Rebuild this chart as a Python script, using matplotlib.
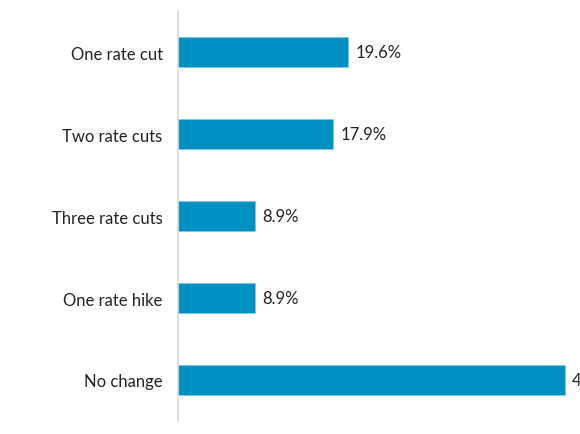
import matplotlib.pyplot as plt

categories = ["One rate cut", "Two rate cuts", "Three rate cuts", "One rate hike", "No change"]
values = [19.6, 17.9, 8.9, 8.9, 44.6]

plt.rcParams['font.family'] = ['Lato', 'DejaVu Sans']

fig = plt.figure(figsize=(5.8, 4.35), dpi=100)
ax = fig.add_axes([178 / 580, 13 / 435, 402 / 580, 410 / 435])

ypos = list(range(len(categories)))
ax.barh(ypos, values, height=0.355, color="#0090c2", edgecolor="#7fc8e4", linewidth=0.6)

for y, v in zip(ypos, values):
    ax.text(v + 0.85, y, f"{v:.1f}%", va="center", ha="left", fontsize=12, color="#222222")

ax.set_xlim(0, 46.35)
ax.set_ylim(4.5, -0.5)
ax.set_yticks(ypos)
ax.set_yticklabels(categories, fontsize=12, color="#222222")
ax.tick_params(axis="y", length=0, pad=11)
ax.set_xticks([])

for s in ["top", "right", "bottom"]:
    ax.spines[s].set_visible(False)
ax.spines["left"].set_color("#d9d9d9")
ax.spines["left"].set_linewidth(1.2)

fig.savefig("out.png", dpi=100)
